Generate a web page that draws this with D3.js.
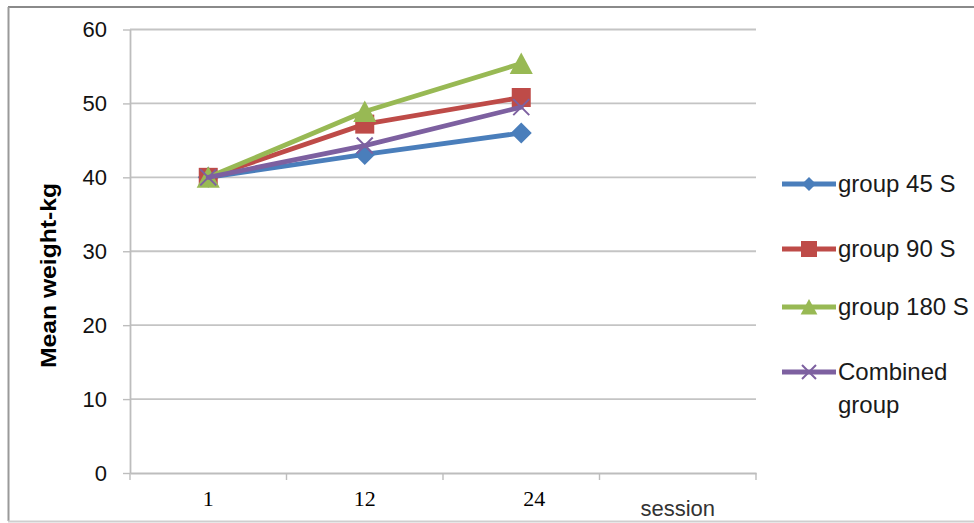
<!DOCTYPE html>
<html>
<head>
<meta charset="utf-8">
<script src="https://cdn.jsdelivr.net/npm/d3@7"></script>
<style>
  html, body { margin: 0; padding: 0; background: #fff; }
  svg { display: block; }
</style>
</head>
<body>
<svg id="chart" width="974" height="523"></svg>
<script>
// ---- data ----
const categories = ["1", "12", "24", "session"];
const seriesNames = ["group 45 S", "group 90 S", "group 180 S", "Combined group"];
const group45 = [40, 43.1, 46.0];
const group90 = [40, 47.2, 50.8];
const group180 = [40, 48.9, 55.4];
const combined = [40, 44.3, 49.5];
const yTicks = [0, 10, 20, 30, 40, 50, 60];

// ---- styling ----
const colors = ["#4a7ebb", "#be4b48", "#98b954", "#7d60a0"];
const markers = ["diamond", "square", "triangle", "cross"];
const allSeries = [group45, group90, group180, combined];

const svg = d3.select("#chart");
const plot = { left: 130, right: 756, top: 29.5, bottom: 473 };

const x = d3.scaleBand().domain(categories).range([plot.left, plot.right]).paddingInner(0).paddingOuter(0);
const y = d3.scaleLinear().domain([0, 60]).range([plot.bottom, plot.top]);

// outer border
svg.append("line").attr("x1", 8).attr("x2", 974).attr("y1", 7).attr("y2", 7)
  .attr("stroke", "#8a8a8a").attr("stroke-width", 2);
svg.append("line").attr("x1", 8.5).attr("x2", 8.5).attr("y1", 7).attr("y2", 521)
  .attr("stroke", "#9a9a9a").attr("stroke-width", 2);
svg.append("line").attr("x1", 8).attr("x2", 974).attr("y1", 521.5).attr("y2", 521.5)
  .attr("stroke", "#cfcfcf").attr("stroke-width", 2);

// gridlines
svg.append("g").selectAll("line").data(yTicks.filter(d => d !== 0)).join("line")
  .attr("x1", plot.left).attr("x2", plot.right)
  .attr("y1", d => y(d)).attr("y2", d => y(d))
  .attr("stroke", "#c4c4c4").attr("stroke-width", 1.8);

// y axis
const yAxis = svg.append("g").attr("transform", `translate(${plot.left},0)`)
  .call(d3.axisLeft(y).tickValues(yTicks).tickSizeInner(7).tickSizeOuter(0).tickPadding(16));
yAxis.select(".domain").attr("stroke", "#bdbdbd").attr("stroke-width", 1.8);
yAxis.selectAll(".tick line").attr("stroke", "#bdbdbd").attr("stroke-width", 1.4);
yAxis.selectAll(".tick text").attr("font-family", "Liberation Sans, Arial, sans-serif")
  .attr("font-size", 22).attr("fill", "#111");

// x axis
const xAxis = svg.append("g").attr("transform", `translate(0,${plot.bottom})`)
  .call(d3.axisBottom(x).tickSize(0).tickSizeOuter(0).tickPadding(0));
xAxis.select(".domain").attr("stroke", "#bdbdbd").attr("stroke-width", 1.8);
xAxis.selectAll(".tick text")
  .attr("font-family", d => d === "session" ? "Liberation Sans, Arial, sans-serif" : "Liberation Serif, Times New Roman, serif")
  .attr("font-size", 22)
  .attr("fill", d => d === "session" ? "#333" : "#000")
  .attr("dy", null)
  .attr("dx", d => d === "24" ? 13 : 0)
  .attr("y", d => d === "session" ? 43 : 33);
// boundary ticks
const bounds = categories.map(c => x(c)).concat([x.range()[1]]);
svg.append("g").selectAll("line").data(bounds).join("line")
  .attr("x1", d => d).attr("x2", d => d)
  .attr("y1", plot.bottom).attr("y2", plot.bottom + 7)
  .attr("stroke", "#bdbdbd").attr("stroke-width", 1.4);

// y title
svg.append("text")
  .attr("transform", `translate(56,${(183 + 368) / 2}) rotate(-90)`)
  .attr("text-anchor", "middle")
  .attr("font-family", "Liberation Sans, Arial, sans-serif")
  .attr("font-weight", "bold").attr("font-size", 22)
  .attr("textLength", 185).attr("lengthAdjust", "spacingAndGlyphs")
  .attr("fill", "#000")
  .text("Mean weight-kg");

// marker drawing
function drawMarker(g, type, cx, cy, s, color) {
  if (type === "diamond") {
    g.append("path").attr("d", `M${cx},${cy - s}L${cx + s},${cy}L${cx},${cy + s}L${cx - s},${cy}Z`).attr("fill", color);
  } else if (type === "square") {
    g.append("rect").attr("x", cx - s).attr("y", cy - s).attr("width", 2 * s).attr("height", 2 * s).attr("fill", color);
  } else if (type === "triangle") {
    g.append("path").attr("d", `M${cx},${cy - s}L${cx + s * 1.05},${cy + s * 0.95}L${cx - s * 1.05},${cy + s * 0.95}Z`).attr("fill", color);
  } else if (type === "cross") {
    g.append("path").attr("d", `M${cx - s},${cy - s}L${cx + s},${cy + s}M${cx - s},${cy + s}L${cx + s},${cy - s}`)
      .attr("stroke", color).attr("stroke-width", 2).attr("fill", "none");
  }
}
const plotSizes = { diamond: 10.5, square: 9.5, triangle: 11, cross: 8 };
const legendSizes = { diamond: 7, square: 8, triangle: 8, cross: 7 };

const line = d3.line().x((d, i) => x(categories[i]) + x.bandwidth() / 2).y(d => y(d));

allSeries.forEach((vals, si) => {
  const g = svg.append("g");
  g.append("path").datum(vals).attr("d", line)
    .attr("fill", "none").attr("stroke", colors[si]).attr("stroke-width", 4.8)
    .attr("stroke-linejoin", "round").attr("stroke-linecap", "round");
  vals.forEach((v, i) => {
    drawMarker(g, markers[si], x(categories[i]) + x.bandwidth() / 2, y(v), plotSizes[markers[si]], colors[si]);
  });
});

// legend
const legendY = [184, 249, 307, 372];
const legend = svg.append("g");
seriesNames.forEach((name, i) => {
  const g = legend.append("g");
  const ly = legendY[i];
  g.append("line").attr("x1", 782).attr("x2", 836).attr("y1", ly).attr("y2", ly)
    .attr("stroke", colors[i]).attr("stroke-width", 4.8);
  drawMarker(g, markers[i], 809, ly, legendSizes[markers[i]], colors[i]);
  const words = name === "Combined group" ? ["Combined", "group"] : [name];
  words.forEach((w, wi) => {
    g.append("text").attr("x", 838).attr("y", ly + wi * 33).attr("dy", "0.35em")
      .attr("font-family", "Liberation Sans, Arial, sans-serif").attr("font-size", 24)
      .attr("fill", "#1a1a1a").text(w);
  });
});
</script>
</body>
</html>
